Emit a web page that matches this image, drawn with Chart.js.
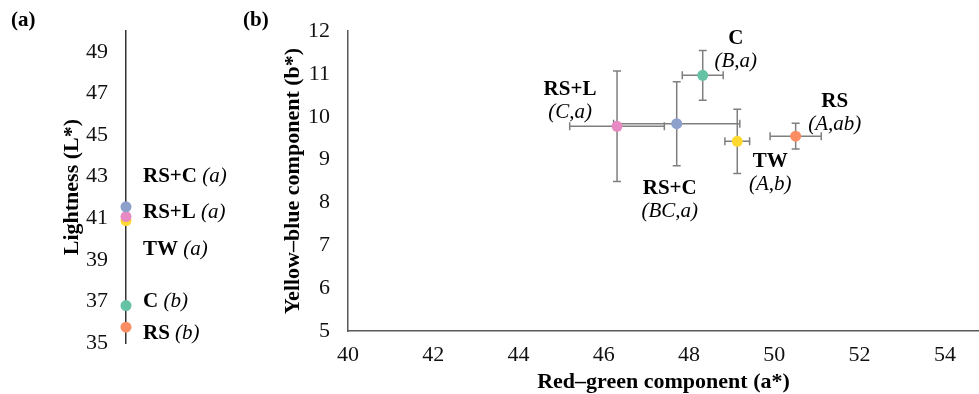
<!DOCTYPE html>
<html>
<head>
<meta charset="utf-8">
<script src="https://cdn.jsdelivr.net/npm/chart.js@4.4.1/dist/chart.umd.min.js"></script>
<style>
  html, body { margin: 0; padding: 0; background: #fff; }
  #wrap { position: relative; width: 979px; height: 394px; overflow: hidden; }
  canvas { position: absolute; top: 0; }
  #chartA { left: 0; }
  #chartB { left: 240px; }
  .panel { position: absolute; top: 7px; font: bold 21px "Liberation Serif", serif; color: #000; }
</style>
</head>
<body>
<div id="wrap">
  <canvas id="chartA" width="240" height="394"></canvas>
  <canvas id="chartB" width="739" height="394"></canvas>
  <div class="panel" style="left:11px">(a)</div>
  <div class="panel" style="left:243px">(b)</div>
</div>
<script>
// treatments and their colour measurements
const treatments = ['RS', 'C', 'TW', 'RS+L', 'RS+C'];
const pointColors = ['#fc8d62', '#66c2a5', '#ffd92f', '#e78ac3', '#8da0cb'];

// (a) lightness L*
const lightness = [35.76, 36.8, 40.89, 41.08, 41.55];
const lightnessGroups = ['(b)', '(b)', '(a)', '(a)', '(a)'];

// (b) a* / b* with standard deviations
const redGreen = [50.5, 48.32, 49.13, 46.31, 47.71];
const redGreenErr = [0.6, 0.48, 0.29, 1.11, 1.48];
const yellowBlue = [9.55, 10.97, 9.43, 9.78, 9.84];
const yellowBlueErr = [0.3, 0.58, 0.75, 1.29, 0.98];
const colorGroups = ['(A,ab)', '(B,a)', '(A,b)', '(C,a)', '(BC,a)'];

// tick labels
const lightnessTicks = [35, 37, 39, 41, 43, 45, 47, 49];
const redGreenTicks = [40, 42, 44, 46, 48, 50, 52, 54];
const yellowBlueTicks = [5, 6, 7, 8, 9, 10, 11, 12];

// label placement next to the dots (pixels)
const labelShiftA = [6, -4, 29, -4, -30];
const labelShiftB = [[39, -35], [33, -37], [33, 20], [-47, -37], [-7, 65]];

const serif = '"Liberation Serif", "Times New Roman", serif';
Chart.defaults.font.family = serif;
Chart.defaults.color = '#000';

const tickFont = { family: serif, size: 22 };
const titleFont = { family: serif, size: 22, weight: 'bold' };

// labels for panel (a): bold name + italic group letter
const labelsA = {
  id: 'labelsA',
  afterDatasetsDraw(chart) {
    const ctx = chart.ctx;
    const pts = chart.getDatasetMeta(0).data;
    ctx.save();
    ctx.textBaseline = 'middle';
    ctx.textAlign = 'left';
    ctx.fillStyle = '#000';
    pts.forEach((p, i) => {
      const x = p.x + 17;
      const y = p.y + labelShiftA[i];
      ctx.font = 'bold 21px ' + serif;
      ctx.fillText(treatments[i], x, y);
      const w = ctx.measureText(treatments[i] + ' ').width;
      ctx.font = 'italic 21px ' + serif;
      ctx.fillText(lightnessGroups[i], x + w, y);
    });
    ctx.restore();
  }
};

// error bars for panel (b)
const errorBars = {
  id: 'errorBars',
  beforeDatasetsDraw(chart) {
    const { ctx, scales: { x, y } } = chart;
    ctx.save();
    ctx.strokeStyle = '#7f7f7f';
    ctx.lineWidth = 1.5;
    redGreen.forEach((a, i) => {
      const b = yellowBlue[i];
      const px = x.getPixelForValue(a);
      const py = y.getPixelForValue(b);
      const x0 = x.getPixelForValue(a - redGreenErr[i]);
      const x1 = x.getPixelForValue(a + redGreenErr[i]);
      const y0 = y.getPixelForValue(b - yellowBlueErr[i]);
      const y1 = y.getPixelForValue(b + yellowBlueErr[i]);
      ctx.beginPath();
      ctx.moveTo(x0, py); ctx.lineTo(x1, py);
      ctx.moveTo(x0, py - 4); ctx.lineTo(x0, py + 4);
      ctx.moveTo(x1, py - 4); ctx.lineTo(x1, py + 4);
      ctx.moveTo(px, y0); ctx.lineTo(px, y1);
      ctx.moveTo(px - 4, y0); ctx.lineTo(px + 4, y0);
      ctx.moveTo(px - 4, y1); ctx.lineTo(px + 4, y1);
      ctx.stroke();
    });
    ctx.restore();
  }
};

// two-line labels for panel (b)
const labelsB = {
  id: 'labelsB',
  afterDatasetsDraw(chart) {
    const ctx = chart.ctx;
    const pts = chart.getDatasetMeta(0).data;
    ctx.save();
    ctx.textBaseline = 'middle';
    ctx.textAlign = 'center';
    ctx.fillStyle = '#000';
    pts.forEach((p, i) => {
      const x = p.x + labelShiftB[i][0];
      const y = p.y + labelShiftB[i][1];
      ctx.font = 'bold 21px ' + serif;
      ctx.fillText(treatments[i], x, y);
      ctx.font = 'italic 21px ' + serif;
      ctx.fillText(colorGroups[i], x, y + 23);
    });
    ctx.restore();
  }
};

new Chart(document.getElementById('chartA'), {
  type: 'scatter',
  data: {
    datasets: [{
      data: lightness.map(v => ({ x: 0, y: v })),
      pointBackgroundColor: pointColors,
      pointBorderWidth: 0,
      pointRadius: 5.5,
      clip: false
    }]
  },
  options: {
    responsive: false,
    animation: false,
    layout: { autoPadding: false, padding: { top: 25, bottom: 51, left: 0, right: 0 } },
    plugins: { legend: { display: false }, tooltip: { enabled: false } },
    scales: {
      x: { type: 'linear', min: 0, max: 1, display: false },
      y: {
        min: 35, max: 50,
        afterBuildTicks: s => { s.ticks = lightnessTicks.map(v => ({ value: v })); },
        afterFit: s => { s.width = 126; },
        grid: { display: false, drawTicks: false },
        border: { display: true, color: '#333', width: 1.5 },
        ticks: { font: tickFont, color: '#111', padding: 18 },
        title: { display: true, text: 'Lightness (L*)', font: titleFont, color: '#000', padding: { top: 59, bottom: 0 } }
      }
    }
  },
  plugins: [labelsA]
});

new Chart(document.getElementById('chartB'), {
  type: 'scatter',
  data: {
    datasets: [{
      data: redGreen.map((v, i) => ({ x: v, y: yellowBlue[i] })),
      pointBackgroundColor: pointColors,
      pointBorderWidth: 0,
      pointRadius: 5.5,
      clip: false
    }]
  },
  options: {
    responsive: false,
    animation: false,
    layout: { autoPadding: false, padding: { top: 21, bottom: 0, left: 0, right: 0 } },
    plugins: { legend: { display: false }, tooltip: { enabled: false } },
    scales: {
      x: {
        type: 'linear', min: 40, max: 54.8,
        afterBuildTicks: s => { s.ticks = redGreenTicks.map(v => ({ value: v })); },
        afterFit: s => { s.height = 63; },
        grid: { display: false, drawTicks: false },
        border: { display: true, color: '#595959', width: 1.5 },
        ticks: { font: tickFont, color: '#111', padding: 11, maxRotation: 0, autoSkip: false },
        title: { display: true, text: 'Red–green component (a*)', font: titleFont, color: '#000', padding: { top: 0, bottom: -2 } }
      },
      y: {
        min: 5, max: 12,
        afterBuildTicks: s => { s.ticks = yellowBlueTicks.map(v => ({ value: v })); },
        afterFit: s => { s.width = 108; },
        grid: { display: false, drawTicks: false },
        border: { display: true, color: '#595959', width: 1.5 },
        ticks: { font: tickFont, color: '#111', padding: 18 },
        title: { display: true, text: 'Yellow–blue component (b*)', font: titleFont, color: '#000', padding: { top: 40, bottom: 0 } }
      }
    }
  },
  plugins: [errorBars, labelsB]
});
</script>
</body>
</html>
